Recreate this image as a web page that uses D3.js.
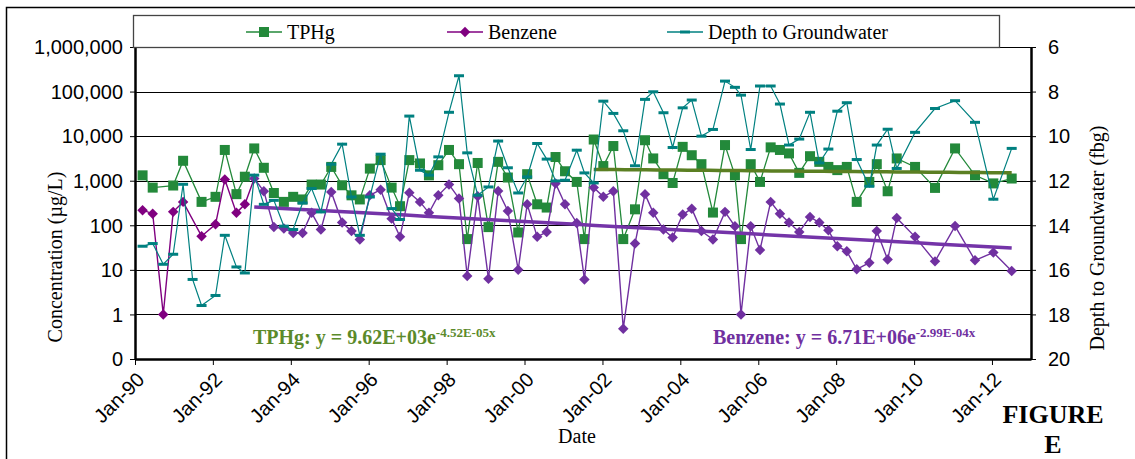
<!DOCTYPE html>
<html>
<head>
<meta charset="utf-8">
<script src="https://cdn.jsdelivr.net/npm/d3@7"></script>
<style>
  body { margin: 0; background: #fff; }
  svg { display: block; font-family: 'Liberation Serif', 'Times New Roman', serif; }
  .axis text { font-size: 20px; fill: #000; }
  .axis path, .axis line { stroke: #000; }
</style>
</head>
<body>
<svg id="chart" width="1135" height="459"></svg>
<script>
// sample dates
const dates = [
  '1990-03-13', '1990-06-16', '1990-09-23', '1990-12-25', '1991-03-28', '1991-06-25', '1991-09-17',
  '1992-01-26', '1992-04-22', '1992-08-09', '1992-10-27', '1993-01-23', '1993-04-23', '1993-07-26',
  '1993-10-28', '1994-01-23', '1994-04-21', '1994-07-15', '1994-10-10', '1995-01-15', '1995-04-27',
  '1995-07-24', '1995-10-10', '1996-01-12', '1996-04-22', '1996-08-03', '1996-10-21', '1997-01-16',
  '1997-04-26', '1997-07-19', '1997-10-15', '1998-01-23', '1998-04-27', '1998-07-13', '1998-10-19',
  '1999-01-28', '1999-04-29', '1999-07-29', '1999-11-03', '2000-01-26', '2000-04-29', '2000-07-27',
  '2000-10-18', '2001-01-15', '2001-05-05', '2001-07-16', '2001-10-11', '2002-01-09', '2002-04-13',
  '2002-07-15', '2002-11-02', '2003-02-04', '2003-04-22', '2003-07-27', '2003-10-21', '2004-01-23',
  '2004-04-17', '2004-07-17', '2004-11-02', '2005-02-23', '2005-05-27', '2005-07-23', '2005-10-22',
  '2006-01-17', '2006-04-27', '2006-07-23', '2006-10-16', '2007-01-20', '2007-05-01', '2007-07-27',
  '2007-10-20', '2008-01-12', '2008-04-10', '2008-07-12', '2008-11-07', '2009-01-16', '2009-04-28',
  '2009-07-22', '2010-01-10', '2010-07-16', '2011-01-20', '2011-07-26', '2012-01-14', '2012-07-04'
]

// TPHg, ug/L (null = not sampled)
const tphg = [
  1320, 700, null, 780, 2800, null, 335,
  435, 4900, 500, 1230, 5300, 1950, 530,
  335, 435, 380, 820, 820, 2040, 790,
  470, 380, 1870, 2900, 700, 268, 2900,
  2440, 1320, 2230, 4900, 2350, 49, 2500,
  91, 2650, 1180, 69, 1400, 296, 250,
  3400, 1630, 940, 49, 8400, 2130, 6000,
  49, 228, 8100, 3160, 1400, 890, 5750,
  3730, 2350, 193, 6300, 1320, 49, 2350,
  940, 5600, 4900, 4100, 1500, 3550, 2650,
  2040, 1730, 2040, 335, 940, 2350, 580,
  3160, 2040, 690, 5300, 1320, 870, 1120
]

// Benzene, ug/L
const benzene = [
  218, 182, 1.0, 200, 335, null, 57,
  105, 1070, 190, 296, 1120, 580, 91,
  85, 67, 67, 190, 80, 560, 115,
  74, 48, 470, 630, 141, 55, 535,
  335, 190, 470, 820, 400, 7.3, 450,
  6.3, 590, 210, 10, 296, 55, 71,
  870, 296, 113, 6.1, 700, 435, 580,
  0.48, 39, 500, 190, 80, 53, 174,
  236, 74, 48, 200, 95, 1.0, 95,
  28, 335, 182, 115, 71, 154, 115,
  77, 34, 26, 10.3, 14.5, 74, 17,
  146, 55, 15.5, 96, 16.4, 24.5, 9.4
]

// Depth to groundwater, ft bgs
const depth = [
  14.94, 14.82, 15.75, 15.30, 12.16, 16.43, 17.60,
  17.15, 14.45, 15.87, 16.14, 11.75, 13.06, 12.88,
  14.04, 14.19, 13.00, 12.35, 13.40, 11.26, 10.36,
  12.73, 14.45, 12.73, 10.81, 13.25, 13.74, 9.10,
  11.53, 11.75, 10.93, 8.93, 7.29, 10.75, 12.65,
  12.28, 10.22, 11.42, 12.55, 11.83, 10.33, 11.03,
  12.01, 11.98, 10.63, 11.65, 12.10, 8.43, 8.98,
  9.76, 11.33, 8.35, 8.01, 8.95, 10.51, 8.73,
  8.38, 10.00, 9.70, 7.53, 7.81, 8.16, 10.60,
  7.75, 7.75, 8.56, 10.40, 10.13, 8.93, 11.20,
  10.58, 8.88, 8.50, 11.05, 12.25, 10.40, 9.69,
  11.45, 9.83, 8.76, 8.41, 9.38, 12.83, 10.55
]

const concTicks = [0.1, 1, 10, 100, 1000, 10000, 100000, 1000000]
const depthTicks = [6, 8, 10, 12, 14, 16, 18, 20]
const xTickYears = [1990, 1992, 1994, 1996, 1998, 2000, 2002, 2004, 2006, 2008, 2010, 2012]

// exponential trendlines as printed on the chart (x = Excel serial date)
const tphgTrend = {a: 9.62E+03, b: -4.52E-05, from: '2001-10-11', label: 'TPHg: y = 9.62E+03e', sup: '-4.52E-05x'}
const benzeneTrend = {a: 6.71E+06, b: -2.99E-04, from: '1993-01-23', label: 'Benzene: y = 6.71E+06e', sup: '-2.99E-04x'}

const colors = {
  tphg: '#23893a', benzene: '#7030a0', benzeneOld: '#800080', depth: '#008080',
  tphgTrend: '#5b7f22', benzeneTrend: '#7434a8', tphgEq: '#5b8a2a', benzeneEq: '#7030a0'
}

const parse = d3.utcParse('%Y-%m-%d')
const rows = dates.map((d, i) => ({date: parse(d), tphg: tphg[i], benzene: benzene[i], depth: depth[i]}))

const svg = d3.select('#chart')
const plot = {left: 135, right: 1031, top: 47, bottom: 359}

const x = d3.scaleUtc()
  .domain([Date.UTC(1990, 0, 1), Date.UTC(2013, 0, 1)])
  .range([plot.left, plot.right])
const y = d3.scaleLog().domain([0.1, 1e6]).range([plot.bottom, plot.top])
const y2 = d3.scaleLinear().domain([6, 20]).range([plot.top, plot.bottom])

// outer frame
svg.append('rect')
  .attr('x', 6.5).attr('y', 7.5).attr('width', 1140).attr('height', 470)
  .attr('fill', 'none').attr('stroke', '#000').attr('stroke-width', 1.5)

// gridlines
svg.append('g')
  .selectAll('line')
  .data(concTicks.slice(1))
  .enter()
  .append('line')
  .attr('x1', plot.left).attr('x2', plot.right)
  .attr('y1', (d) => Math.round(y(d)) + 0.5).attr('y2', (d) => Math.round(y(d)) + 0.5)
  .attr('stroke', '#000').attr('stroke-width', 1)

// axes
const fmt = d3.format(',')
const leftAxis = d3.axisLeft(y).tickValues(concTicks).tickSize(5).tickSizeOuter(0)
  .tickFormat((d) => d < 1 ? '0' : fmt(d))
const gl = svg.append('g').attr('class', 'axis')
  .attr('transform', `translate(${plot.left}, 0)`).call(leftAxis)
gl.select('.domain').attr('stroke-width', 2.5)
gl.selectAll('text').attr('x', -12).attr('dy', '0.34em')

const rightAxis = d3.axisRight(y2).tickValues(depthTicks).tickSize(5).tickSizeOuter(0)
const gr = svg.append('g').attr('class', 'axis')
  .attr('transform', `translate(${plot.right}, 0)`).call(rightAxis)
gr.select('.domain').attr('stroke-width', 2.5)
gr.selectAll('text').attr('x', 17).attr('dy', '0.34em')

const bottomAxis = d3.axisBottom(x)
  .tickValues(xTickYears.map((yr) => new Date(Date.UTC(yr, 0, 1))))
  .tickSize(6).tickSizeOuter(0)
  .tickFormat(d3.utcFormat('%b-%y'))
const gb = svg.append('g').attr('class', 'axis')
  .attr('transform', `translate(0, ${plot.bottom})`).call(bottomAxis)
gb.select('.domain').attr('stroke-width', 2.5)
gb.selectAll('text')
  .attr('text-anchor', 'end')
  .attr('x', 0).attr('y', 0).attr('dy', 0)
  .attr('transform', 'translate(10, 22) rotate(-45)')

// axis titles
svg.append('text')
  .attr('transform', 'translate(62, 257) rotate(-90)')
  .attr('text-anchor', 'middle').attr('font-size', 20)
  .text('Concentration (µg/L)')
svg.append('text')
  .attr('transform', 'translate(1104, 238) rotate(-90)')
  .attr('text-anchor', 'middle').attr('font-size', 20)
  .text('Depth to Groundwater (fbg)')
svg.append('text')
  .attr('x', 577).attr('y', 443)
  .attr('text-anchor', 'middle').attr('font-size', 20)
  .text('Date')

// TPHg series
const tp = rows.filter((d) => d.tphg != null)
svg.append('path')
  .datum(tp)
  .attr('fill', 'none').attr('stroke', colors.tphg).attr('stroke-width', 1.3)
  .attr('d', d3.line().x((d) => x(d.date)).y((d) => y(d.tphg)))
svg.append('g')
  .selectAll('rect')
  .data(tp)
  .enter()
  .append('rect')
  .attr('x', (d) => x(d.date) - 5).attr('y', (d) => y(d.tphg) - 5)
  .attr('width', 10).attr('height', 10)
  .attr('fill', colors.tphg)

// Benzene series
const bz = rows.filter((d) => d.benzene != null)
const bzSplit = parse(benzeneTrend.from)
svg.append('path')
  .datum(bz.filter((d) => d.date <= bzSplit))
  .attr('fill', 'none').attr('stroke', colors.benzeneOld).attr('stroke-width', 1.4)
  .attr('d', d3.line().x((d) => x(d.date)).y((d) => y(d.benzene)))
svg.append('path')
  .datum(bz.filter((d) => d.date >= bzSplit))
  .attr('fill', 'none').attr('stroke', colors.benzene).attr('stroke-width', 1.4)
  .attr('d', d3.line().x((d) => x(d.date)).y((d) => y(d.benzene)))
const diamond = d3.symbol().type(d3.symbolDiamond2).size(70)
svg.append('g')
  .selectAll('path')
  .data(bz)
  .enter()
  .append('path')
  .attr('d', diamond)
  .attr('transform', (d) => `translate(${x(d.date)}, ${y(d.benzene)})`)
  .attr('fill', (d) => d.date < bzSplit ? colors.benzeneOld : colors.benzene)

// trendlines
const excelSerial = (dt) => (dt - Date.UTC(1899, 11, 30)) / 86400000
function drawTrend(tr, series, color) {
  const start = parse(tr.from)
  const end = series[series.length - 1].date
  const pts = d3.range(0, 41).map((i) => new Date(+start + (end - start) * i / 40))
  svg.append('path')
    .datum(pts)
    .attr('fill', 'none').attr('stroke', color).attr('stroke-width', 3.5)
    .attr('d', d3.line().x((d) => x(d)).y((d) => y(tr.a * Math.exp(tr.b * excelSerial(d)))))
}
drawTrend(tphgTrend, tp, colors.tphgTrend)
drawTrend(benzeneTrend, bz, colors.benzeneTrend)

// Depth series
svg.append('path')
  .datum(rows)
  .attr('fill', 'none').attr('stroke', colors.depth).attr('stroke-width', 1.2)
  .attr('d', d3.line().x((d) => x(d.date)).y((d) => y2(d.depth)))
svg.append('g')
  .selectAll('rect')
  .data(rows)
  .enter()
  .append('rect')
  .attr('x', (d) => x(d.date) - 5).attr('y', (d) => y2(d.depth) - 1.5)
  .attr('width', 10).attr('height', 3)
  .attr('fill', colors.depth)

// trend equations
function equation(tr, xPos, color) {
  const t = svg.append('text')
    .attr('x', xPos).attr('y', 344)
    .attr('font-size', 20).attr('font-weight', 'bold').attr('fill', color)
  t.append('tspan').text(tr.label)
  t.append('tspan').attr('font-size', 13).attr('dy', -7).text(tr.sup)
}
equation(tphgTrend, 253, colors.tphgEq)
equation(benzeneTrend, 713, colors.benzeneEq)

// legend
const legend = svg.append('g')
legend.append('rect')
  .attr('x', 133.5).attr('y', 15.5).attr('width', 866).attr('height', 32)
  .attr('fill', '#fff').attr('stroke', '#444').attr('stroke-width', 1.3)
const legendItems = [
  {name: 'TPHg', cx: 264, color: colors.tphg, marker: 'square'},
  {name: 'Benzene', cx: 465, color: colors.benzeneOld, marker: 'diamond'},
  {name: 'Depth to Groundwater', cx: 685, color: colors.depth, marker: 'dash'},
]
legendItems.forEach((it) => {
  const g = legend.append('g').attr('transform', `translate(${it.cx}, 32)`)
  g.append('line').attr('x1', -18).attr('x2', 18).attr('stroke', it.color).attr('stroke-width', 1.3)
  if (it.marker === 'square') {
    g.append('rect').attr('x', -5).attr('y', -5).attr('width', 10).attr('height', 10).attr('fill', it.color)
  } else if (it.marker === 'diamond') {
    g.append('path').attr('d', diamond).attr('fill', it.color)
  } else {
    g.append('rect').attr('x', -5).attr('y', -1.5).attr('width', 10).attr('height', 3).attr('fill', it.color)
  }
  g.append('text').attr('x', 23).attr('dy', '0.34em').attr('font-size', 20).text(it.name)
})

// figure label
svg.append('text').attr('x', 1053).attr('y', 423).attr('text-anchor', 'middle')
  .attr('font-size', 26).attr('font-weight', 'bold').text('FIGURE')
svg.append('text').attr('x', 1053).attr('y', 453).attr('text-anchor', 'middle')
  .attr('font-size', 26).attr('font-weight', 'bold').text('E')
</script>
</body>
</html>
